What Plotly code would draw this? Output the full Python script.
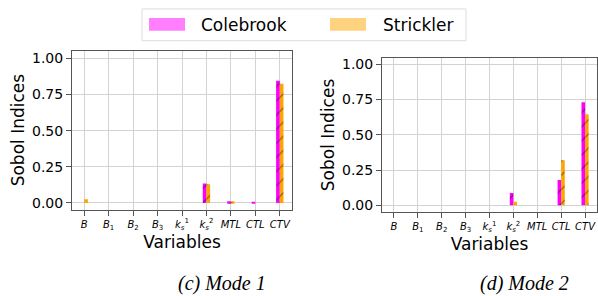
import plotly.graph_objects as go

variables = ["B", "B1", "B2", "B3", "ks1", "ks2", "MTL", "CTL", "CTV"]
tick_labels = ["<i>B</i>", "<i>B</i><sub>1</sub>", "<i>B</i><sub>2</sub>", "<i>B</i><sub>3</sub>",
               "<i>k</i><sub><i>s</i></sub><sup>1</sup>", "<i>k</i><sub><i>s</i></sub><sup>2</sup>",
               "<i>MTL</i>", "<i>CTL</i>", "<i>CTV</i>"]

mode1_colebrook = [0.0, 0.0, 0.0, 0.0, 0.0, 0.135, 0.012, 0.008, 0.845]
mode1_strickler = [0.025, 0.0, 0.0, 0.0, 0.0, 0.13, 0.01, 0.0, 0.825]
mode2_colebrook = [0.0, 0.0, 0.0, 0.0, 0.0, 0.087, 0.0, 0.18, 0.73]
mode2_strickler = [0.0, 0.0, 0.0, 0.0, 0.0, 0.025, 0.0, 0.32, 0.645]

series_names = ["Colebrook", "Strickler"]
captions = ["(c) Mode 1", "(d) Mode 2"]

MAG = "#ff00ff"
ORA = "#ffa500"
W, H = 598, 296
FONT = "DejaVu Sans"

fig = go.Figure()
xs = list(range(len(variables)))
bw = 0.15
for i, (c, s) in enumerate([(mode1_colebrook, mode1_strickler), (mode2_colebrook, mode2_strickler)]):
    xa = "x" if i == 0 else "x2"
    ya = "y" if i == 0 else "y2"
    for vals, col, off, name in [(c, MAG, -bw, series_names[0]), (s, ORA, 0.0, series_names[1])]:
        fig.add_trace(go.Bar(
            x=xs, y=vals, xaxis=xa, yaxis=ya, width=bw, offset=off, name=name,
            showlegend=False,
            marker=dict(color=col, line=dict(width=0),
                        pattern=dict(shape="/", fgcolor="black", bgcolor=col, size=10, solidity=0.1)),
        ))

axis_common = dict(showline=True, linecolor="#555", linewidth=1, mirror=True,
                   showgrid=True, gridcolor="#d3d3d3", gridwidth=1, zeroline=False,
                   ticks="outside", ticklen=5, tickcolor="#555")

def px(x):
    return x / W

def py(y):
    return 1 - y / H

fig.update_layout(
    width=W, height=H, margin=dict(l=0, r=0, t=0, b=0),
    paper_bgcolor="white", plot_bgcolor="white",
    font=dict(family=FONT, color="black"),
    barmode="overlay", showlegend=False,
    xaxis=dict(domain=[px(72), px(292)], range=[-0.5, 8.5], tickvals=xs, ticktext=tick_labels,
               tickfont=dict(size=10), anchor="y",
               title=dict(text="Variables", font=dict(size=17), standoff=4), **axis_common),
    yaxis=dict(domain=[py(210), py(50)], range=[-0.046, 1.053], tickvals=[0, 0.25, 0.5, 0.75, 1.0],
               tickformat=".2f", tickfont=dict(size=14), anchor="x",
               title=dict(text="Sobol Indices", font=dict(size=17), standoff=3), **axis_common),
    xaxis2=dict(domain=[px(382), px(597)], range=[-0.5, 8.5], tickvals=xs, ticktext=tick_labels,
                tickfont=dict(size=10), anchor="y2",
                title=dict(text="Variables", font=dict(size=17), standoff=4), **axis_common),
    yaxis2=dict(domain=[py(212.7), py(57)], range=[-0.049, 1.047], tickvals=[0, 0.25, 0.5, 0.75, 1.0],
                tickformat=".2f", tickfont=dict(size=14), anchor="x2",
                title=dict(text="Sobol Indices", font=dict(size=17), standoff=3), **axis_common),
)

# legend (drawn manually: light patches without hatch)
shapes = [
    dict(type="rect", xref="paper", yref="paper", x0=px(142), x1=px(466), y0=py(40), y1=py(8),
         line=dict(color="#dddddd", width=1), fillcolor="white", layer="above"),
    dict(type="rect", xref="paper", yref="paper", x0=px(149), x1=px(185), y0=py(30), y1=py(17),
         line=dict(width=0), fillcolor="rgba(255,0,255,0.5)"),
    dict(type="rect", xref="paper", yref="paper", x0=px(330), x1=px(366), y0=py(30), y1=py(17),
         line=dict(width=0), fillcolor="rgba(255,165,0,0.5)"),
]
fig.update_layout(shapes=shapes)
fig.add_annotation(xref="paper", yref="paper", x=px(199), y=py(24), text=series_names[0],
                   showarrow=False, xanchor="left", yanchor="middle", font=dict(size=17))
fig.add_annotation(xref="paper", yref="paper", x=px(381), y=py(24), text=series_names[1],
                   showarrow=False, xanchor="left", yanchor="middle", font=dict(size=17))

for cx, cap in zip([222, 524], captions):
    fig.add_annotation(xref="paper", yref="paper", x=px(cx), y=py(284), text="<i>" + cap + "</i>",
                       showarrow=False, xanchor="center", yanchor="middle",
                       font=dict(size=20, family="Liberation Serif"))

fig.write_html("out.html", config={"displayModeBar": False},
               post_script="document.body.style.margin='0';document.body.style.overflow='hidden';")
